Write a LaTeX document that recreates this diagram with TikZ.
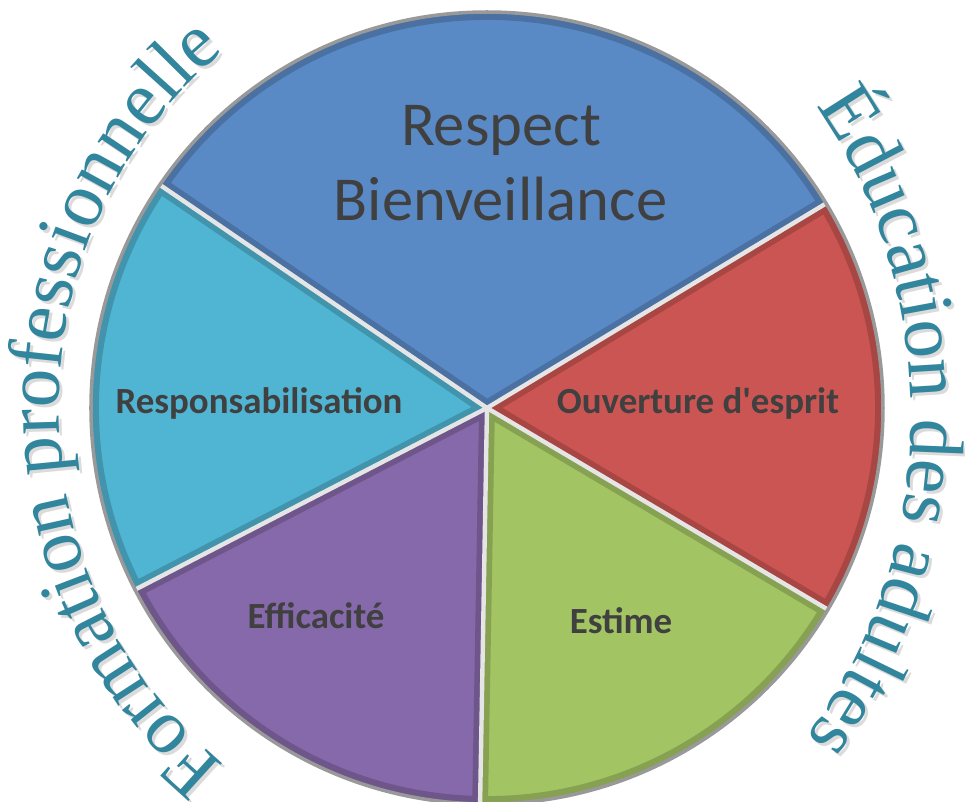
\documentclass[tikz,border=0pt]{standalone}
\usepackage{fontspec}
\setmainfont{Carlito}
\newfontfamily\piefont{Carlito}
\newfontfamily\arcfont{Liberation Serif}
\usepackage{tikz}
\usetikzlibrary{decorations.text}

\definecolor{pieblue}{HTML}{5A8AC6}
\definecolor{piered}{HTML}{CB5552}
\definecolor{piegreen}{HTML}{A3C463}
\definecolor{piepurple}{HTML}{8669AA}
\definecolor{piecyan}{HTML}{50B5D3}
\definecolor{labelgray}{HTML}{404040}
\definecolor{arcteal}{HTML}{31859C}

\tikzset{
  bevel/.style={line width=9},
  sepline/.style={line width=2.5, white!80!gray},
  rimline/.style={line width=2, gray!80},
  slicetext/.style={text=labelgray, font=\piefont\fontsize{21}{25}\bfseries\selectfont, anchor=base},
  bigtext/.style={text=labelgray, font=\piefont\fontsize{35.6}{42}\selectfont, anchor=base}
}

\begin{document}
\begin{tikzpicture}[line cap=round,line join=round,x=0.02cm,y=0.02cm]

\useasboundingbox (-487,-394) rectangle (478,408);

% slices
\begin{scope}
\clip (0,0) -- (31.1:396) arc (31.1:145.7:396) -- cycle;
\fill [pieblue] (0,0) -- (31.1:396) arc (31.1:145.7:396) -- cycle;
\draw [bevel,pieblue!82!black] (0,0) -- (31.1:396) arc (31.1:145.7:396) -- cycle;
\end{scope}
\begin{scope}
\clip (0,0) -- (145.7:396) arc (145.7:207.3:396) -- cycle;
\fill [piecyan] (0,0) -- (145.7:396) arc (145.7:207.3:396) -- cycle;
\draw [bevel,piecyan!82!black] (0,0) -- (145.7:396) arc (145.7:207.3:396) -- cycle;
\end{scope}
\begin{scope}
\clip (0,0) -- (207.3:396) arc (207.3:269:396) -- cycle;
\fill [piepurple] (0,0) -- (207.3:396) arc (207.3:269:396) -- cycle;
\draw [bevel,piepurple!82!black] (0,0) -- (207.3:396) arc (207.3:269:396) -- cycle;
\end{scope}
\begin{scope}
\clip (0,0) -- (269:396) arc (269:329.4:396) -- cycle;
\fill [piegreen] (0,0) -- (269:396) arc (269:329.4:396) -- cycle;
\draw [bevel,piegreen!82!black] (0,0) -- (269:396) arc (269:329.4:396) -- cycle;
\end{scope}
\begin{scope}
\clip (0,0) -- (-30.6:396) arc (-30.6:31.1:396) -- cycle;
\fill [piered] (0,0) -- (-30.6:396) arc (-30.6:31.1:396) -- cycle;
\draw [bevel,piered!82!black] (0,0) -- (-30.6:396) arc (-30.6:31.1:396) -- cycle;
\end{scope}

\draw [sepline] (0,0) -- (31.1:396);
\draw [sepline] (0,0) -- (145.7:396);
\draw [sepline] (0,0) -- (207.3:396);
\draw [sepline] (0,0) -- (269:396);
\draw [sepline] (0,0) -- (329.4:396);
\draw [rimline] (0,0) circle (396);

% slice labels
\node [bigtext] (respect) at (14,263) {Respect};
\node [bigtext] (bienveillance) at (13.5,188) {Bienveillance};
\node [slicetext] (responsab) at (-228,-5) {Responsabilisation};
\node [slicetext] (ouverture) at (211,-5) {Ouverture d'esprit};
\node [slicetext] (efficacite) at (-171,-220) {Efficacité};
\node [slicetext] (estime) at (134,-225) {Estime};

% curved titles
\coordinate (leftc) at (0,0);
\coordinate (rightc) at (0,-7);
\path [decorate,decoration={text along path,text align=center,
  text={|\arcfont\fontsize{44}{50}\selectfont\color{gray!28}|Formation professionnelle}}]
  ([shift={(233:428 and 452)}]leftc) ++(3,-3) arc [start angle=233,end angle=127,x radius=428,y radius=452];
\path [decorate,decoration={text along path,text align=center,
  text={|\arcfont\fontsize{44}{50}\selectfont\color{arcteal}|Formation professionnelle}}]
  ([shift={(233:428 and 452)}]leftc) arc [start angle=233,end angle=127,x radius=428,y radius=452];
\path [decorate,decoration={text along path,text align=center,
  text={|\arcfont\fontsize{44}{50}\selectfont\color{gray!28}|Éducation des adultes}}]
  ([shift={(46:424 and 490)}]rightc) ++(3,-3) arc [start angle=46,end angle=-48,x radius=424,y radius=490];
\path [decorate,decoration={text along path,text align=center,
  text={|\arcfont\fontsize{44}{50}\selectfont\color{arcteal}|Éducation des adultes}}]
  ([shift={(46:424 and 490)}]rightc) arc [start angle=46,end angle=-48,x radius=424,y radius=490];

\end{tikzpicture}
\end{document}
